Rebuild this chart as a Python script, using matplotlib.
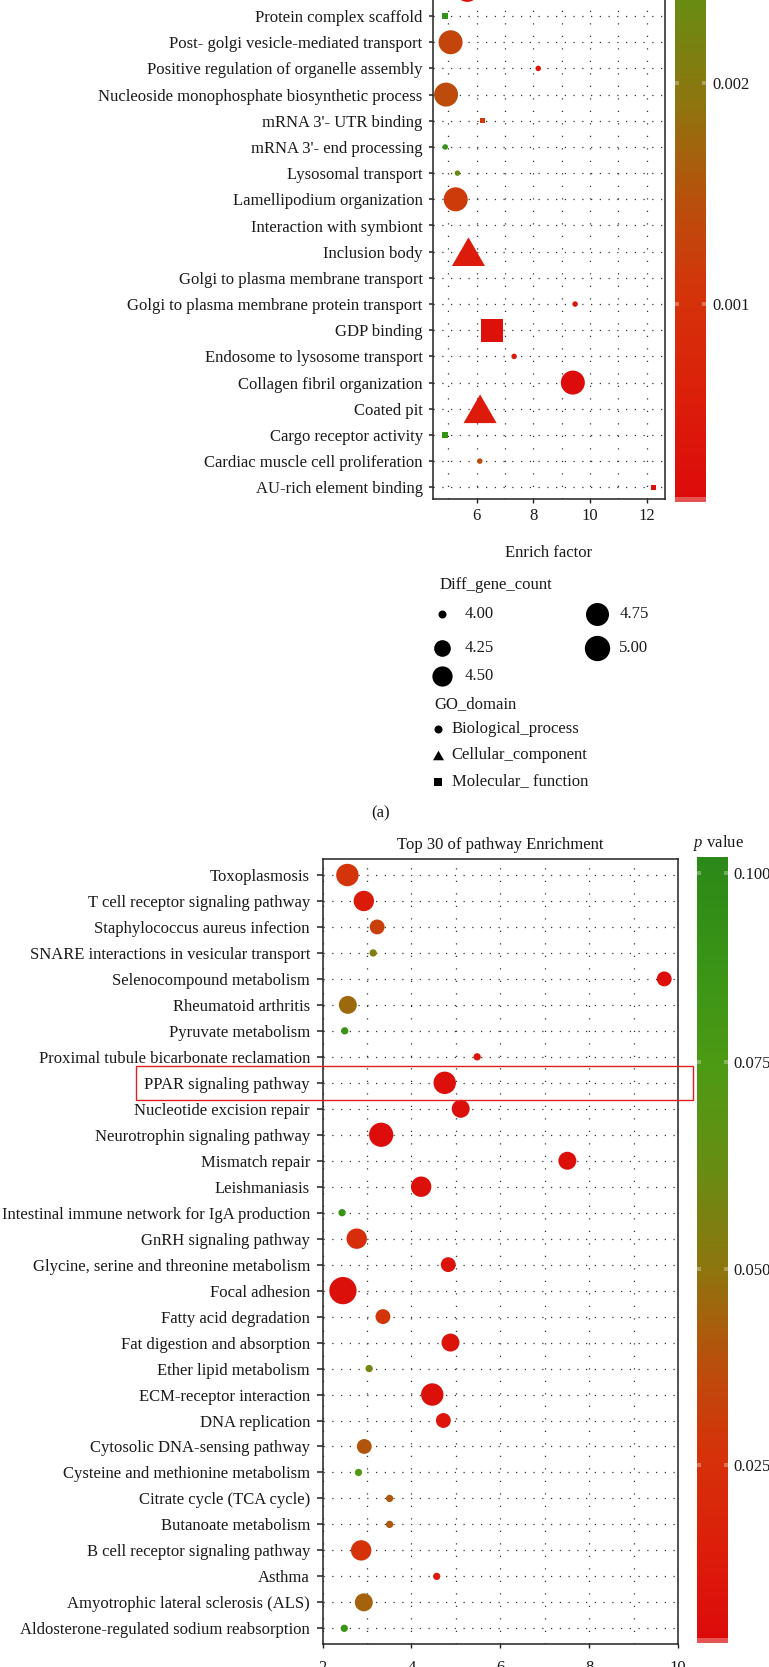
import numpy as np
import matplotlib
matplotlib.use("Agg")
import matplotlib.pyplot as plt
from matplotlib.colors import LinearSegmentedColormap, Normalize, FuncNorm
from matplotlib.cm import ScalarMappable
from matplotlib.patches import Rectangle
from matplotlib.ticker import MultipleLocator

W, H, DPI = 769, 1667, 100
plt.rcParams['font.family'] = ['Liberation Serif', 'DejaVu Serif']
plt.rcParams['mathtext.fontset'] = 'custom'
plt.rcParams['mathtext.rm'] = 'Liberation Serif'
plt.rcParams['mathtext.it'] = 'Liberation Serif:italic'
FS = 12
TXT = '#1a1a1a'

# ---------------- Panel (a): GO terms (bottom -> top) ----------------
go_terms = ["AU-rich element binding", "Cardiac muscle cell proliferation",
            "Cargo receptor activity", "Coated pit", "Collagen fibril organization",
            "Endosome to lysosome transport", "GDP binding",
            "Golgi to plasma membrane protein transport",
            "Golgi to plasma membrane transport", "Inclusion body",
            "Interaction with symbiont", "Lamellipodium organization",
            "Lysosomal transport", "mRNA 3'- end processing", "mRNA 3'- UTR binding",
            "Nucleoside monophosphate biosynthetic process",
            "Positive regulation of organelle assembly",
            "Post- golgi vesicle-mediated transport", "Protein complex scaffold", ""]
go_enrich = [12.23, 6.11, 4.88, 6.12, 9.39, 7.32, 6.54, 9.47, np.nan, 5.71,
             np.nan, 5.26, 5.32, 4.89, 6.21, 4.92, 8.17, 5.08, 4.88, 5.67]
go_count = [4, 4, 4, 5, 5, 4, 5, 4, 4, 5, 4, 5, 4, 4, 4, 5, 4, 5, 4, 5]
go_pvalue = [0.0003, 0.0014, 0.0035, 0.0005, 0.00015, 0.0005, 0.0003, 0.0004, np.nan, 0.0005,
             np.nan, 0.00117, 0.0024, 0.0035, 0.00113, 0.0014, 0.0004, 0.00132, 0.0035, 0.0003]
go_domain = ["MF", "BP", "MF", "CC", "BP", "BP", "MF", "BP", "BP", "CC",
             "BP", "BP", "BP", "BP", "MF", "BP", "BP", "BP", "MF", "BP"]
go_xticks = [6, 8, 10, 12]
go_cbar_ticks = [0.001, 0.002]
size_breaks = [4.00, 4.25, 4.50, 4.75, 5.00]
domain_names = ["Biological_process", "Cellular_component", "Molecular_ function"]

# ---------------- Panel (b): KEGG pathways (bottom -> top) ----------------
kegg_terms = ["Aldosterone-regulated sodium reabsorption", "Amyotrophic lateral sclerosis (ALS)",
              "Asthma", "B cell receptor signaling pathway", "Butanoate metabolism",
              "Citrate cycle (TCA cycle)", "Cysteine and methionine metabolism",
              "Cytosolic DNA-sensing pathway", "DNA replication", "ECM-receptor interaction",
              "Ether lipid metabolism", "Fat digestion and absorption", "Fatty acid degradation",
              "Focal adhesion", "Glycine, serine and threonine metabolism", "GnRH signaling pathway",
              "Intestinal immune network for IgA production", "Leishmaniasis", "Mismatch repair",
              "Neurotrophin signaling pathway", "Nucleotide excision repair", "PPAR signaling pathway",
              "Proximal tubule bicarbonate reclamation", "Pyruvate metabolism", "Rheumatoid arthritis",
              "Selenocompound metabolism", "SNARE interactions in vesicular transport",
              "Staphylococcus aureus infection", "T cell receptor signaling pathway", "Toxoplasmosis"]
kegg_enrich = [2.49, 2.93, 4.57, 2.87, 3.51, 3.51, 2.81, 2.94, 4.72, 4.47,
               3.05, 4.88, 3.36, 2.46, 4.83, 2.77, 2.44, 4.22, 7.51, 3.32,
               5.11, 4.75, 5.48, 2.50, 2.57, 9.69, 3.14, 3.23, 2.93, 2.56]
kegg_count = [2, 4, 2, 5, 2, 2, 2, 3, 3, 6,
              2, 4, 3, 9, 3, 5, 2, 5, 4, 7,
              4, 6, 2, 2, 4, 3, 2, 3, 5, 6]
kegg_pvalue = [0.087, 0.044, 0.012, 0.026, 0.041, 0.041, 0.072, 0.040, 0.010, 0.006,
               0.057, 0.008, 0.028, 0.006, 0.008, 0.024, 0.090, 0.006, 0.006, 0.004,
               0.006, 0.005, 0.008, 0.087, 0.046, 0.004, 0.054, 0.032, 0.0124, 0.027]
kegg_xticks = [2, 4, 6, 8, 10]
kegg_cbar_ticks = [0.025, 0.050, 0.075, 0.100]
highlight_term = "PPAR signaling pathway"

# ---------------- helpers ----------------
cmap = LinearSegmentedColormap.from_list("pv", [
    (0.00, (220/255, 10/255, 10/255)), (0.12, (220/255, 30/255, 10/255)),
    (0.25, (212/255, 52/255, 10/255)), (0.36, (184/255, 80/255, 12/255)),
    (0.47, (144/255, 116/255, 14/255)), (0.60, (104/255, 140/255, 18/255)),
    (0.73, (78/255, 154/255, 20/255)), (0.86, (58/255, 148/255, 22/255)),
    (1.00, (44/255, 136/255, 24/255))])

fig = plt.figure(figsize=(W / DPI, H / DPI), dpi=DPI)

def add_ax(l, t, r, b):
    return fig.add_axes([l / W, 1 - b / H, (r - l) / W, (b - t) / H])

def pt(px):
    return px * 72.0 / DPI

def diam(c, cmin, cmax, dmin, dmax):
    return dmin + (dmax - dmin) * np.sqrt((np.asarray(c, float) - cmin) / (cmax - cmin))

TRI = [(-1, -0.866), (1, -0.866), (0, 0.866), (-1, -0.866)]
MARK = {"BP": ("o", 1.0), "CC": (TRI, 1.38), "MF": ("s", 0.95)}

def style_panel(ax, xlim, ylim, xticks, ylabels, ytick_len, ylab_pad):
    ax.set_xlim(*xlim)
    ax.set_ylim(*ylim)
    ax.set_xticks(xticks)
    ax.xaxis.set_minor_locator(MultipleLocator(1))
    ax.set_yticks(np.arange(1, len(ylabels) + 1))
    ax.set_yticklabels(ylabels, fontsize=FS, color=TXT)
    ax.tick_params(axis='y', length=pt(ytick_len), width=1.1, color='#222', pad=pt(ylab_pad))
    ax.tick_params(axis='x', which='major', length=pt(3.5), width=1.0, color='#222',
                   labelsize=FS, labelcolor=TXT)
    ax.tick_params(axis='x', which='minor', length=0)
    ax.set_axisbelow(True)
    ax.grid(axis='x', which='both', ls=(0, (1, 9)), lw=0.9, color='#333')
    ax.grid(axis='y', which='major', ls=(0, (1, 6)), lw=0.9, color='#333')
    for s in ax.spines.values():
        s.set_linewidth(1.1)
        s.set_color('#222')

# ---------------- Panel (a) ----------------
rowpx_a = 26.18
ax_top_a = -40
axa = add_ax(433.3, ax_top_a, 665, 499.3)
ylim_a = (1 - (499.3 - 487.3) / rowpx_a, 19 + (16.06 - ax_top_a) / rowpx_a)
style_panel(axa, (4.47, 12.64), ylim_a, go_xticks, go_terms, 4, 6.6)
axa.tick_params(axis='x', pad=pt(5.5))
norm_a = Normalize(vmin=0.000105, vmax=0.0039)
ya = np.arange(1, len(go_terms) + 1)
da = diam(go_count, 4, 5, 5.5, 24)
for dom, (mk, f) in MARK.items():
    sel = np.array([d == dom for d in go_domain]) & ~np.isnan(np.array(go_enrich))
    axa.scatter(np.array(go_enrich)[sel], ya[sel], s=pt(da[sel] * f) ** 2, marker=mk,
                c=cmap(norm_a(np.array(go_pvalue)[sel])), linewidths=0, zorder=3)
fig.text(549 / W, 1 - 552.7 / H, "Enrich factor", ha='center', va='center', fontsize=FS, color=TXT)

# colorbar (a)
cax_a = add_ax(675, -337, 705.7, 501.7)
cb_a = fig.colorbar(ScalarMappable(norm=norm_a, cmap=cmap), cax=cax_a)
cb_a.outline.set_visible(False)
cb_a.set_ticks(go_cbar_ticks)
cb_a.set_ticklabels([f"{v:.3f}" for v in go_cbar_ticks])
cax_a.tick_params(length=0, pad=pt(6.5), labelsize=FS, labelcolor=TXT)

# ---------------- Panel (b) ----------------
axb = add_ax(322.5, 859, 678, 1644)
style_panel(axb, (2, 10), (0.396, 30.616), kegg_xticks, kegg_terms, 6, 6.5)
axb.tick_params(axis='x', pad=pt(12))

# colour scale of panel (b): ticks placed where the reference bar shows them
cb_top, cb_bot = 856.7, 1643.3
cb_vals = [0.00222, 0.025, 0.050, 0.075, 0.100, 0.1021]
cb_px = [1643.3, 1465.0, 1269.3, 1061.7, 872.7, 856.7]
cb_fr = [(cb_bot - y) / (cb_bot - cb_top) for y in cb_px]
norm_b = FuncNorm((lambda v: np.interp(v, cb_vals, cb_fr),
                   lambda f: np.interp(f, cb_fr, cb_vals)), vmin=cb_vals[0], vmax=cb_vals[-1])

yb = np.arange(1, len(kegg_terms) + 1)
db = diam(kegg_count, 2, 9, 7.3, 27.3)
axb.scatter(kegg_enrich, yb, s=pt(db) ** 2, marker='o', c=cmap(norm_b(np.array(kegg_pvalue))),
            linewidths=0, zorder=3)
axb.set_title("Top 30 of pathway Enrichment", fontsize=FS, color=TXT, pad=pt(10))

cax_b = add_ax(697.3, cb_top, 727.7, cb_bot)
cb_b = fig.colorbar(ScalarMappable(norm=norm_b, cmap=cmap), cax=cax_b)
cb_b.outline.set_visible(False)
cb_b.set_ticks(kegg_cbar_ticks)
cb_b.set_ticklabels([f"{v:.3f}" for v in kegg_cbar_ticks])
cax_b.tick_params(length=0, pad=pt(5.5), labelsize=FS, labelcolor=TXT)
fig.text(692.7 / W, 1 - 843.3 / H, r"$\it{p}$ value", ha='left', va='center', fontsize=FS, color=TXT)

for cax, ticks in ((cax_a, go_cbar_ticks), (cax_b, kegg_cbar_ticks)):
    tr = cax.get_yaxis_transform()
    for v in ticks:
        cax.plot([0, 0.12], [v, v], transform=tr, color='white', alpha=0.3, lw=pt(4),
                 solid_capstyle='butt', clip_on=False)
        cax.plot([0.88, 1], [v, v], transform=tr, color='white', alpha=0.3, lw=pt(4),
                 solid_capstyle='butt', clip_on=False)
    cax.add_patch(Rectangle((0, 0), 1, 5.0 / (cax.get_position().height * H),
                            transform=cax.transAxes, color='white', alpha=0.3, lw=0))

# ---------------- overlay: legends, labels, highlight ----------------
ov = fig.add_axes([0, 0, 1, 1], facecolor='none')
ov.set_xlim(0, W)
ov.set_ylim(H, 0)
ov.axis('off')

ov.text(439.3, 585, "Diff_gene_count", ha='left', va='center', fontsize=FS, color=TXT)
leg_pos = [(442.3, 614.3), (442.3, 648.3), (442.3, 676), (596.7, 614.3), (596.7, 648.3)]
dl = diam(size_breaks, 4, 5, 8, 25.3)
for (x, y), v, d in zip(leg_pos, size_breaks, dl):
    ov.scatter([x], [y], s=pt(d) ** 2, marker='o', color='black', linewidths=0)
    ov.text(x + 22.7, y, f"{v:.2f}", ha='left', va='center', fontsize=FS, color=TXT)

ov.text(434.3, 704, "GO_domain", ha='left', va='center', fontsize=FS, color=TXT)
for i, (name, dom) in enumerate(zip(domain_names, ["BP", "CC", "MF"])):
    mk, f = MARK[dom]
    y = 729 + i * 26.3
    ov.scatter([437.7], [y], s=pt(8 * f) ** 2, marker=mk, color='black', linewidths=0)
    ov.text(451.7, y, name, ha='left', va='center', fontsize=FS, color=TXT)

ov.text(381, 813.3, "(a)", ha='center', va='center', fontsize=FS, color=TXT)

# highlight box around one pathway row, located through the panel's own y scale
hi = kegg_terms.index(highlight_term) + 1
disp = axb.transData.transform((2, hi))
ycen = ov.transData.inverted().transform(disp)[1]
ov.add_patch(Rectangle((136, ycen - 17), 692.7 - 136, 34, fill=False, ec='#e02020', lw=1.0))

fig.savefig("out.png", dpi=DPI)
